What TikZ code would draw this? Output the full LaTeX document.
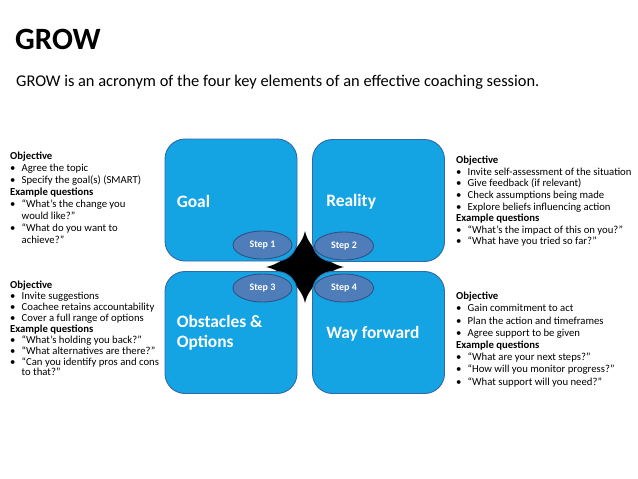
\documentclass[tikz,border=0pt]{standalone}
\usepackage{fontspec}
\setmainfont{Carlito}
\usetikzlibrary{positioning,shapes.geometric}
\definecolor{Ink}{HTML}{000000}
\definecolor{BoxBlue}{HTML}{14A4E4}
\definecolor{BoxEdge}{HTML}{2F69A8}
\definecolor{StepBlue}{HTML}{4F7DBA}
\definecolor{StepEdge}{HTML}{2E5283}
\newcommand{\itm}{\makebox[11.5pt][l]{\textbullet}}
\newcommand{\cont}{\hspace*{11.5pt}}

\begin{document}
\begin{tikzpicture}[x=1pt,y=-1pt,every node/.style={text=Ink},
  quad/.style={draw=BoxEdge,line width=0.9pt,fill=BoxBlue,rounded corners=20pt,
    minimum width=132pt,minimum height=122pt,inner sep=0pt},
  quadlabel/.style={text=white,font=\bfseries\fontsize{17.4}{20}\selectfont,
    anchor=west,align=left,inner sep=0pt},
  stepoval/.style={ellipse,draw=StepEdge,line width=0.9pt,fill=StepBlue,
    minimum width=59pt,minimum height=28pt,inner sep=0pt,
    text=white,font=\bfseries\fontsize{10}{11}\selectfont},
  notes/.style={anchor=north west,align=left,inner sep=0pt,
    font=\fontsize{10.7}{#1}\selectfont}]
  \useasboundingbox[fill=white] (0,0) rectangle (638,479);

  \node[anchor=west,inner sep=0pt,font=\bfseries\fontsize{31}{36}\selectfont] (title) at (15,39) {GROW};
  \node[anchor=west,inner sep=0pt,font=\fontsize{16.4}{19}\selectfont] (subtitle) at (16,82)
    {GROW is an acronym of the four key elements of an effective coaching session.};

  % centre star
  \fill[black] (305,231) .. controls (308,247) and (328,264) .. (344,267)
    .. controls (328,270) and (308,287) .. (305,303)
    .. controls (302,287) and (282,270) .. (266,267)
    .. controls (282,264) and (302,247) .. cycle;

  \node[quad] (goal) at (231,200) {};
  \node[quad] (reality) at (378.5,200.5) {};
  \node[quad] (obstacles) at (231,332.5) {};
  \node[quad] (wayfwd) at (378.5,332.5) {};

  \node[quadlabel] (goallbl) at ([xshift=12pt,yshift=-1pt]goal.west) {Goal};
  \node[quadlabel] (realitylbl) at ([xshift=14pt,yshift=-1.5pt]reality.west) {Reality};
  \node[quadlabel] (obstacleslbl) at ([xshift=12pt,yshift=0pt]obstacles.west) {Obstacles \&\\Options};
  \node[quadlabel] (wayfwdlbl) at ([xshift=14pt,yshift=-1.5pt]wayfwd.west) {Way forward};

  \node[stepoval] (step1) at (262.5,245) {Step 1};
  \node[stepoval] (step2) at (344,246) {Step 2};
  \node[stepoval] (step3) at (262.5,288) {Step 3};
  \node[stepoval] (step4) at (344,288) {Step 4};

  \node[notes=11.9] (goalnotes) at (10,152) {%
    \textbf{Objective}\\
    \itm Agree the topic\\
    \itm Specify the goal(s) (SMART)\\
    \textbf{Example questions}\\
    \itm “What’s the change you\\
    \cont would like?”\\
    \itm “What do you want to\\
    \cont achieve?”};

  \node[notes=11.6] (realitynotes) at (456,156) {%
    \textbf{Objective}\\
    \itm Invite self-assessment of the situation\\
    \itm Give feedback (if relevant)\\
    \itm Check assumptions being made\\
    \itm Explore beliefs influencing action\\
    \textbf{Example questions}\\
    \itm “What’s the impact of this on you?”\\
    \itm “What have you tried so far?”};

  \node[notes=10.9] (obstaclesnotes) at (10,281) {%
    \textbf{Objective}\\
    \itm Invite suggestions\\
    \itm Coachee retains accountability\\
    \itm Cover a full range of options\\
    \textbf{Example questions}\\
    \itm “What’s holding you back?”\\
    \itm “What alternatives are there?”\\
    \itm “Can you identify pros and cons\\
    \cont to that?”};

  \node[notes=12.2] (wayfwdnotes) at (456,292) {%
    \textbf{Objective}\\
    \itm Gain commitment to act\\
    \itm Plan the action and timeframes\\
    \itm Agree support to be given\\
    \textbf{Example questions}\\
    \itm “What are your next steps?”\\
    \itm “How will you monitor progress?”\\
    \itm “What support will you need?”};
\end{tikzpicture}
\end{document}
